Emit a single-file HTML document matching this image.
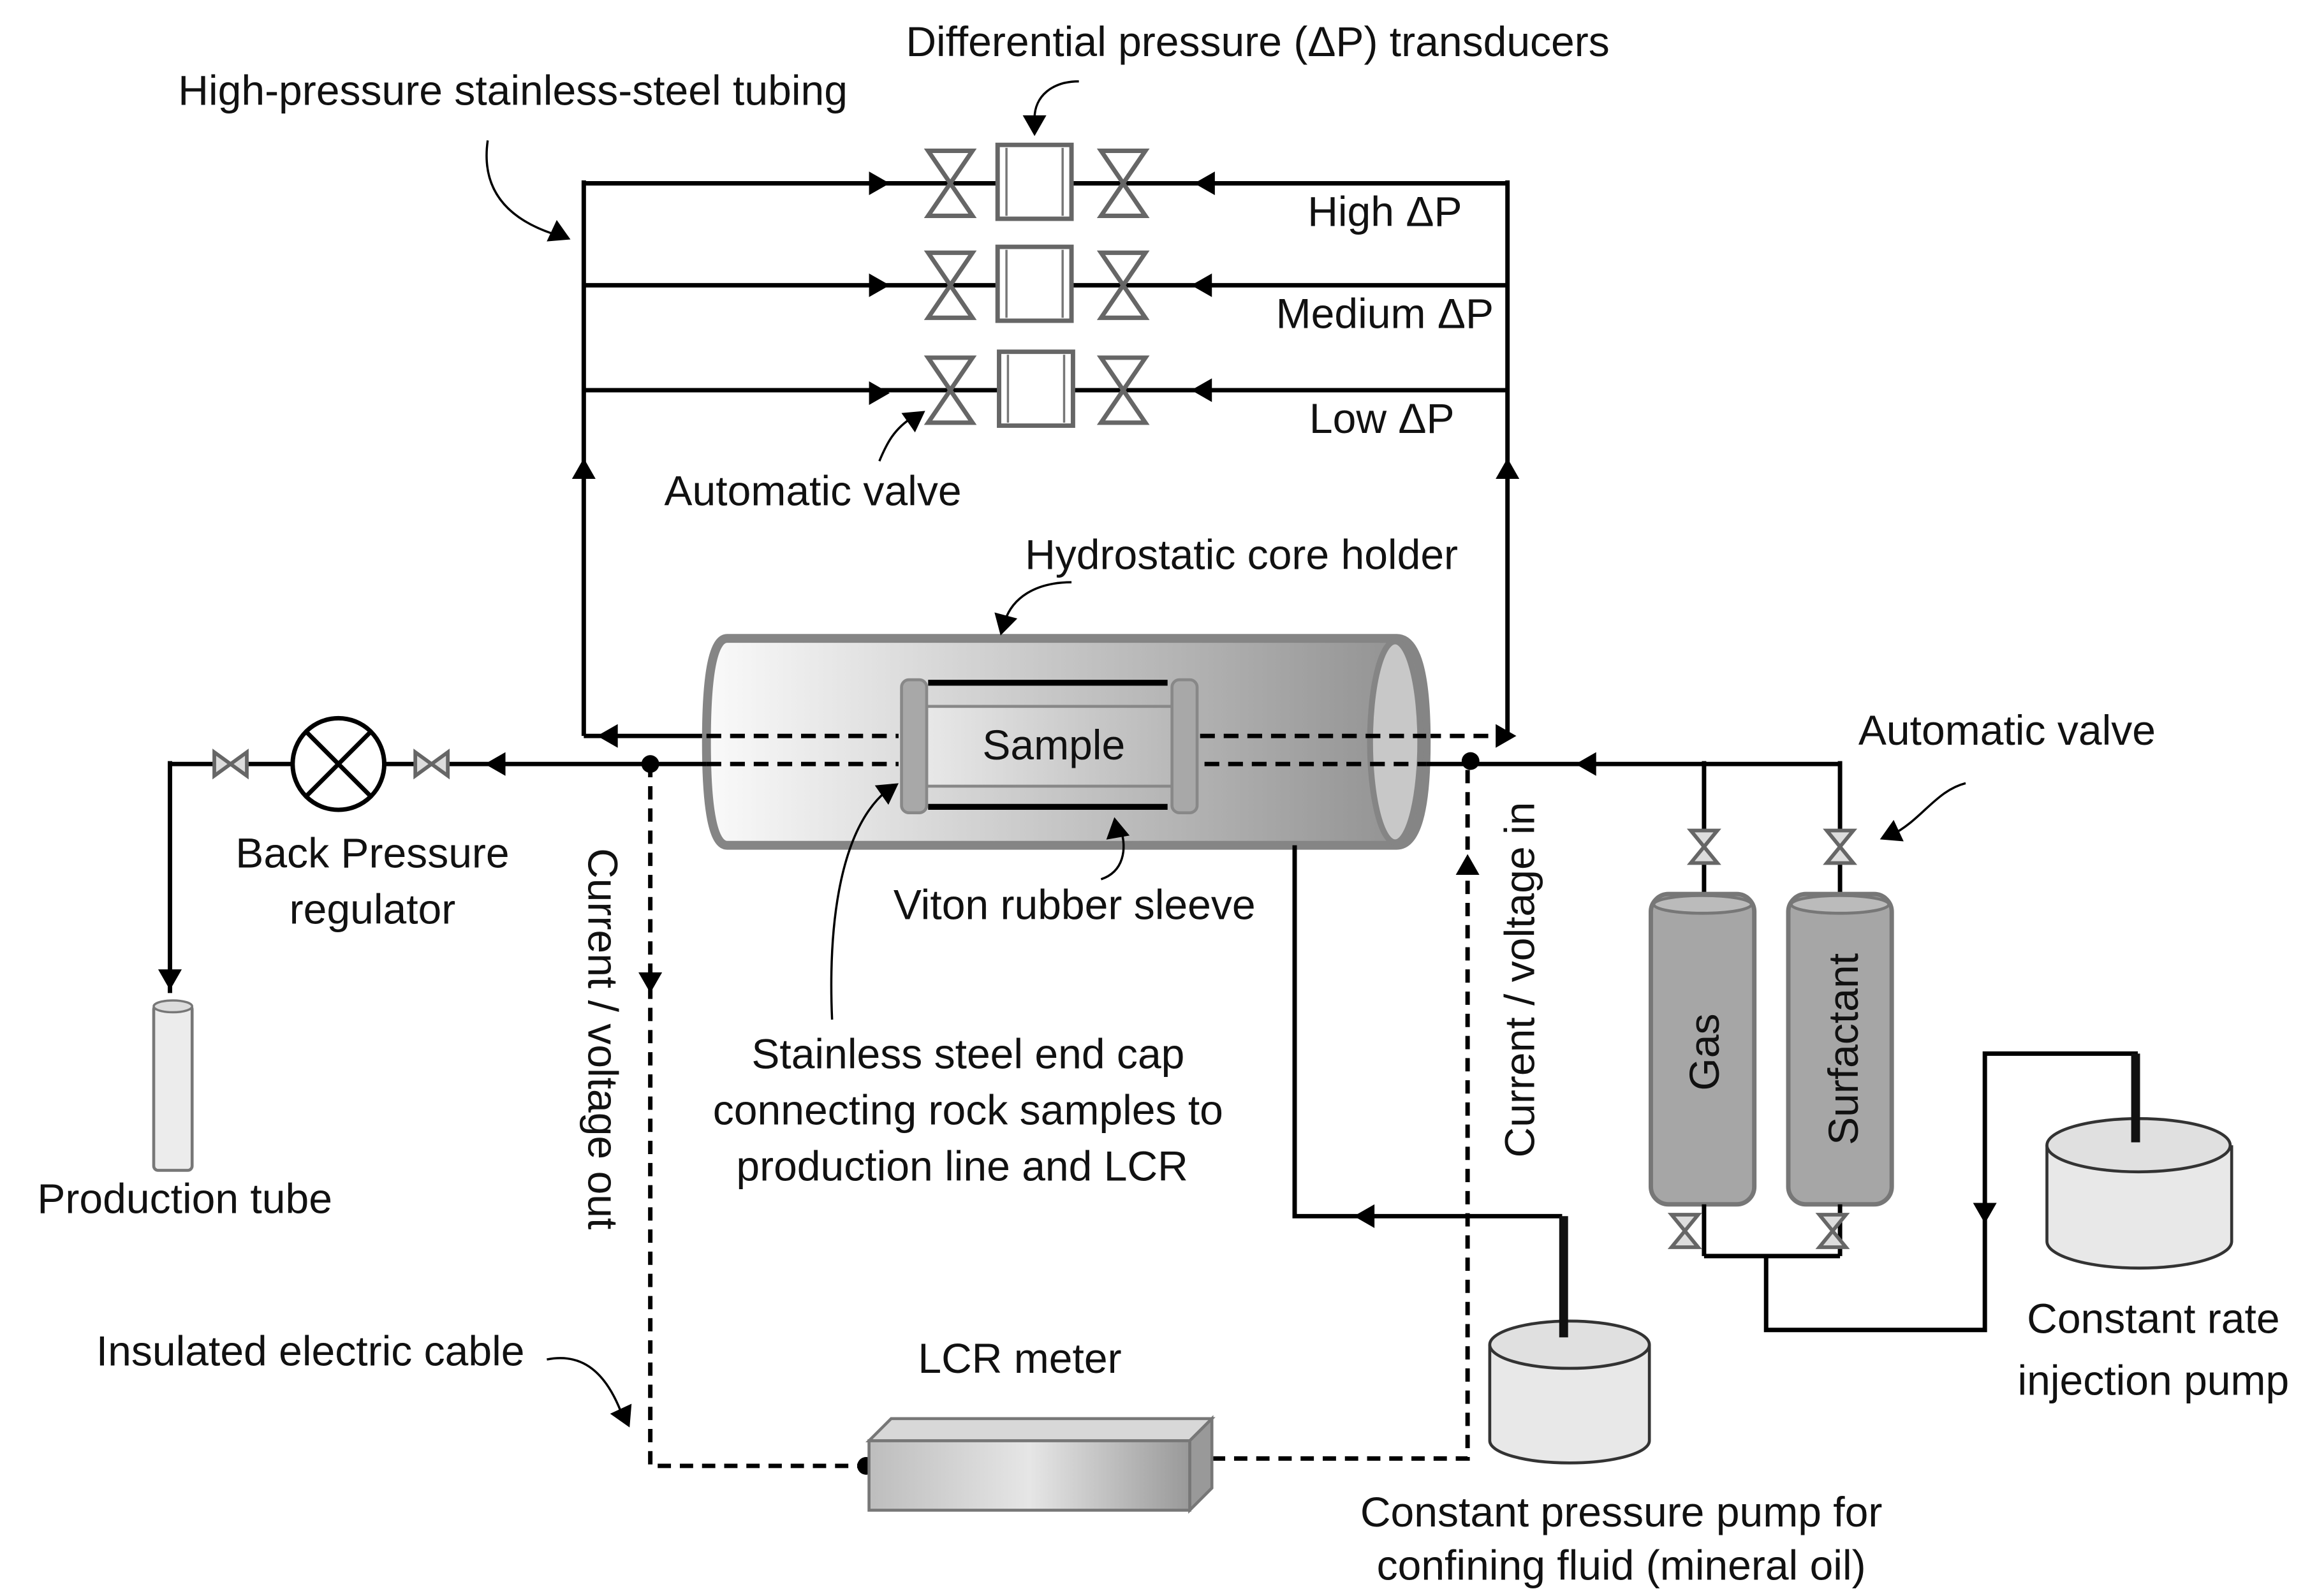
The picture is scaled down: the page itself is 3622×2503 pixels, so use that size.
<!DOCTYPE html>
<html><head><meta charset="utf-8"><style>
html,body{margin:0;padding:0;background:#fff}
svg{display:block}
text{font-family:"Liberation Sans",sans-serif;font-size:28.5px;fill:#111}
</style></head><body>
<svg width="3622" height="2503" viewBox="0 0 1563 1080" xmlns="http://www.w3.org/2000/svg">
<defs>
<linearGradient id="g1" x1="0" x2="1" y1="0" y2="0"><stop offset="0" stop-color="#fafafa"/><stop offset="1" stop-color="#8f8f8f"/></linearGradient>
<linearGradient id="g2" x1="0" x2="1" y1="0" y2="0"><stop offset="0" stop-color="#e8e8e8"/><stop offset="1" stop-color="#b8b8b8"/></linearGradient>
<linearGradient id="g3" x1="0" x2="1"><stop offset="0" stop-color="#bdbdbd"/><stop offset="0.5" stop-color="#e6e6e6"/><stop offset="1" stop-color="#999"/></linearGradient>
<g id="vv"><path d="M-15,-22 L15,-22 L-15,22 L15,22 Z" fill="none" stroke="#666" stroke-width="3"/></g>
<g id="hv"><path d="M-11,-8 L-11,8 L11,-8 L11,8 Z" fill="#ddd" stroke="#666" stroke-width="2.5"/></g>
<g id="vs"><path d="M-9,-11 L9,-11 L-9,11 L9,11 Z" fill="#ddd" stroke="#666" stroke-width="2.5"/></g>
<g id="tr"><rect x="-25" y="-26" width="50" height="50" fill="#fff" stroke="#666" stroke-width="3"/><line x1="-19" y1="-24" x2="-19" y2="22" stroke="#777" stroke-width="1.5"/><line x1="19" y1="-24" x2="19" y2="22" stroke="#777" stroke-width="1.5"/></g>
<path id="ar" d="M0,0 L-14,-8 L-14,8 Z" fill="#000"/>
</defs>

<g stroke="#000" stroke-width="3" fill="none">
<line x1="395" y1="124" x2="1020" y2="124"/>
<line x1="395" y1="193" x2="1020" y2="193"/>
<line x1="395" y1="264" x2="1020" y2="264"/>
<line x1="395" y1="122" x2="395" y2="498"/>
<line x1="1020" y1="122" x2="1020" y2="498"/>
<line x1="395" y1="498" x2="478" y2="498"/>
<line x1="965" y1="498" x2="1020" y2="498" stroke-dasharray="10,6"/>
</g>
<g>
<use href="#ar" transform="translate(602,124)"/><use href="#ar" transform="translate(602,193)"/><use href="#ar" transform="translate(602,266)"/>
<use href="#ar" transform="translate(808,124) rotate(180)"/><use href="#ar" transform="translate(806,193) rotate(180)"/><use href="#ar" transform="translate(806,264) rotate(180)"/>
<use href="#ar" transform="translate(395,310) rotate(-90)"/><use href="#ar" transform="translate(1020,310) rotate(-90)"/>
<use href="#ar" transform="translate(404,498) rotate(180)"/><use href="#ar" transform="translate(1026,498)"/>
</g>
<g>
<use href="#vv" x="643" y="124"/><use href="#vv" x="760" y="124"/>
<use href="#vv" x="643" y="193"/><use href="#vv" x="760" y="193"/>
<use href="#vv" x="643" y="264"/><use href="#vv" x="760" y="264"/>
<use href="#tr" x="700" y="124"/><use href="#tr" x="700" y="193"/><use href="#tr" x="701" y="264"/>
</g>

<path d="M492,432 L945,432 Q965,432 965,502 Q965,572 945,572 L492,572 Q478,572 478,502 Q478,432 492,432 Z" fill="url(#g1)" stroke="#858585" stroke-width="6"/>
<ellipse cx="944" cy="502" rx="17" ry="68" fill="#c8c8c8" stroke="#858585" stroke-width="4"/>
<rect x="627" y="478" width="168" height="54" fill="url(#g2)" stroke="#888" stroke-width="2"/>
<line x1="628" y1="462" x2="790" y2="462" stroke="#000" stroke-width="4"/>
<line x1="628" y1="546" x2="790" y2="546" stroke="#000" stroke-width="4"/>
<rect x="610" y="460" width="17" height="90" rx="5" fill="#a8a8a8" stroke="#888" stroke-width="2"/>
<rect x="793" y="460" width="17" height="90" rx="5" fill="#a8a8a8" stroke="#888" stroke-width="2"/>
<text x="713" y="514" text-anchor="middle">Sample</text>
<g stroke="#000" stroke-width="3" stroke-dasharray="10,6" fill="none">
<line x1="478" y1="498" x2="608" y2="498"/><line x1="478" y1="517" x2="608" y2="517"/>
<line x1="812" y1="498" x2="965" y2="498"/><line x1="815" y1="517" x2="965" y2="517"/>
</g>

<g stroke="#000" stroke-width="3" fill="none">
<line x1="115" y1="517" x2="478" y2="517"/>
<line x1="115" y1="515" x2="115" y2="672"/>
<line x1="965" y1="517" x2="1245" y2="517"/>
<line x1="1153" y1="515" x2="1153" y2="607"/><line x1="1245" y1="515" x2="1245" y2="607"/>
</g>
<use href="#ar" transform="translate(328,517) rotate(180)"/>
<use href="#ar" transform="translate(1066,517) rotate(180)"/>
<use href="#ar" transform="translate(115,670) rotate(90)"/>
<circle cx="229" cy="517" r="31" fill="#fff" stroke="#000" stroke-width="3"/>
<line x1="207" y1="495" x2="251" y2="539" stroke="#000" stroke-width="3"/><line x1="251" y1="495" x2="207" y2="539" stroke="#000" stroke-width="3"/>
<use href="#hv" x="156" y="517"/><use href="#hv" x="292" y="517"/>
<rect x="104" y="680" width="26" height="112" rx="3" fill="#ececec" stroke="#777" stroke-width="2"/>
<ellipse cx="117" cy="681" rx="13" ry="4" fill="#ddd" stroke="#777" stroke-width="1.5"/>

<g stroke="#000" stroke-width="3" stroke-dasharray="9,6" fill="none">
<polyline points="440,517 440,992 588,992"/>
<polyline points="805,987 993,987 993,517"/>
</g>
<circle cx="440" cy="517" r="6"/><circle cx="995" cy="515" r="6"/>
<circle cx="586" cy="992" r="6"/><circle cx="807" cy="987" r="6"/>
<use href="#ar" transform="translate(440,672) rotate(90)"/>
<use href="#ar" transform="translate(993,578) rotate(-90)"/>
<path d="M588,975 L603,960 L820,960 L805,975 Z" fill="#d8d8d8" stroke="#777" stroke-width="2"/>
<path d="M805,975 L820,960 L820,1007 L805,1022 Z" fill="#999" stroke="#777" stroke-width="2"/>
<rect x="588" y="975" width="217" height="47" fill="url(#g3)" stroke="#777" stroke-width="2"/>

<polyline points="876,572 876,823 1057,823" fill="none" stroke="#000" stroke-width="3"/>
<use href="#ar" transform="translate(916,823) rotate(180)"/>
<path d="M1008,910 L1008,975 A54,15 0 0 0 1116,975 L1116,910" fill="#e8e8e8" stroke="#333" stroke-width="2"/>
<ellipse cx="1062" cy="910" rx="54" ry="16" fill="#e0e0e0" stroke="#333" stroke-width="2"/>
<line x1="1058" y1="823" x2="1058" y2="905" stroke="#111" stroke-width="6"/>

<rect x="1117" y="605" width="70" height="210" rx="12" fill="#a6a6a6" stroke="#777" stroke-width="3"/>
<rect x="1210" y="605" width="70" height="210" rx="12" fill="#a6a6a6" stroke="#777" stroke-width="3"/>
<ellipse cx="1152" cy="612" rx="33" ry="6" fill="#bbb" stroke="#777" stroke-width="2"/>
<ellipse cx="1245" cy="612" rx="33" ry="6" fill="#bbb" stroke="#777" stroke-width="2"/>
<text transform="translate(1163,712) rotate(-90)" text-anchor="middle">Gas</text>
<text transform="translate(1257,710) rotate(-90)" text-anchor="middle">Surfactant</text>
<use href="#vs" x="1153" y="573"/><use href="#vs" x="1245" y="573"/>
<g stroke="#000" stroke-width="3" fill="none">
<line x1="1153" y1="815" x2="1153" y2="850"/><line x1="1245" y1="815" x2="1245" y2="850"/>
<line x1="1153" y1="850" x2="1245" y2="850"/>
<polyline points="1195,850 1195,900 1343,900 1343,713 1445,713 1445,770"/>
</g>
<use href="#vs" x="1140" y="833"/><use href="#vs" x="1240" y="833"/>
<use href="#ar" transform="translate(1343,828) rotate(90)"/>
<path d="M1385,775 L1385,840 A62,18 0 0 0 1510,840 L1510,775" fill="#e8e8e8" stroke="#333" stroke-width="2"/>
<ellipse cx="1447" cy="775" rx="62" ry="18" fill="#e0e0e0" stroke="#333" stroke-width="2"/>
<line x1="1445" y1="713" x2="1445" y2="773" stroke="#111" stroke-width="6"/>

<g fill="none" stroke="#000" stroke-width="1.5">
<path d="M330,95 C325,130 345,150 380,160"/>
<path d="M730,55 C712,55 700,65 700,80"/>
<path d="M595,312 C600,300 605,290 618,282"/>
<path d="M725,394 C700,394 685,405 680,420"/>
<path d="M563,690 C560,620 570,560 600,535"/>
<path d="M745,595 C760,590 763,575 758,560"/>
<path d="M1330,530 C1310,535 1300,555 1280,565"/>
<path d="M370,920 C395,915 410,930 420,955"/>
</g>
<use href="#ar" transform="translate(386,162) rotate(25)"/>
<use href="#ar" transform="translate(700,92) rotate(90)"/>
<use href="#ar" transform="translate(626,278) rotate(-35)"/>
<use href="#ar" transform="translate(677,430) rotate(105)"/>
<use href="#ar" transform="translate(608,530) rotate(-35)"/>
<use href="#ar" transform="translate(754,553) rotate(-100)"/>
<use href="#ar" transform="translate(1272,568) rotate(155)"/>
<use href="#ar" transform="translate(426,966) rotate(65)"/>

<text x="851" y="38" text-anchor="middle">Differential pressure (ΔP) transducers</text>
<text x="347" y="71" text-anchor="middle">High-pressure stainless-steel tubing</text>
<text x="937" y="153" text-anchor="middle">High ΔP</text>
<text x="937" y="222" text-anchor="middle">Medium ΔP</text>
<text x="935" y="293" text-anchor="middle">Low ΔP</text>
<text x="550" y="342" text-anchor="middle">Automatic valve</text>
<text x="840" y="385" text-anchor="middle">Hydrostatic core holder</text>
<text x="1358" y="504" text-anchor="middle">Automatic valve</text>
<text x="252" y="587" text-anchor="middle">Back Pressure</text>
<text x="252" y="625" text-anchor="middle">regulator</text>
<text x="727" y="622" text-anchor="middle">Viton rubber sleeve</text>
<text x="655" y="723" text-anchor="middle">Stainless steel end cap</text>
<text x="655" y="761" text-anchor="middle">connecting rock samples to</text>
<text x="651" y="799" text-anchor="middle">production line and LCR</text>
<text x="125" y="821" text-anchor="middle">Production tube</text>
<text transform="translate(398,703) rotate(90)" text-anchor="middle">Current / voltage out</text>
<text transform="translate(1038,663) rotate(-90)" text-anchor="middle">Current / voltage in</text>
<text x="210" y="924" text-anchor="middle">Insulated electric cable</text>
<text x="690" y="929" text-anchor="middle">LCR meter</text>
<text x="1457" y="902" text-anchor="middle">Constant rate</text>
<text x="1457" y="944" text-anchor="middle">injection pump</text>
<text x="1097" y="1033" text-anchor="middle">Constant pressure pump for</text>
<text x="1097" y="1069" text-anchor="middle">confining fluid (mineral oil)</text>
</svg>
</body></html>
